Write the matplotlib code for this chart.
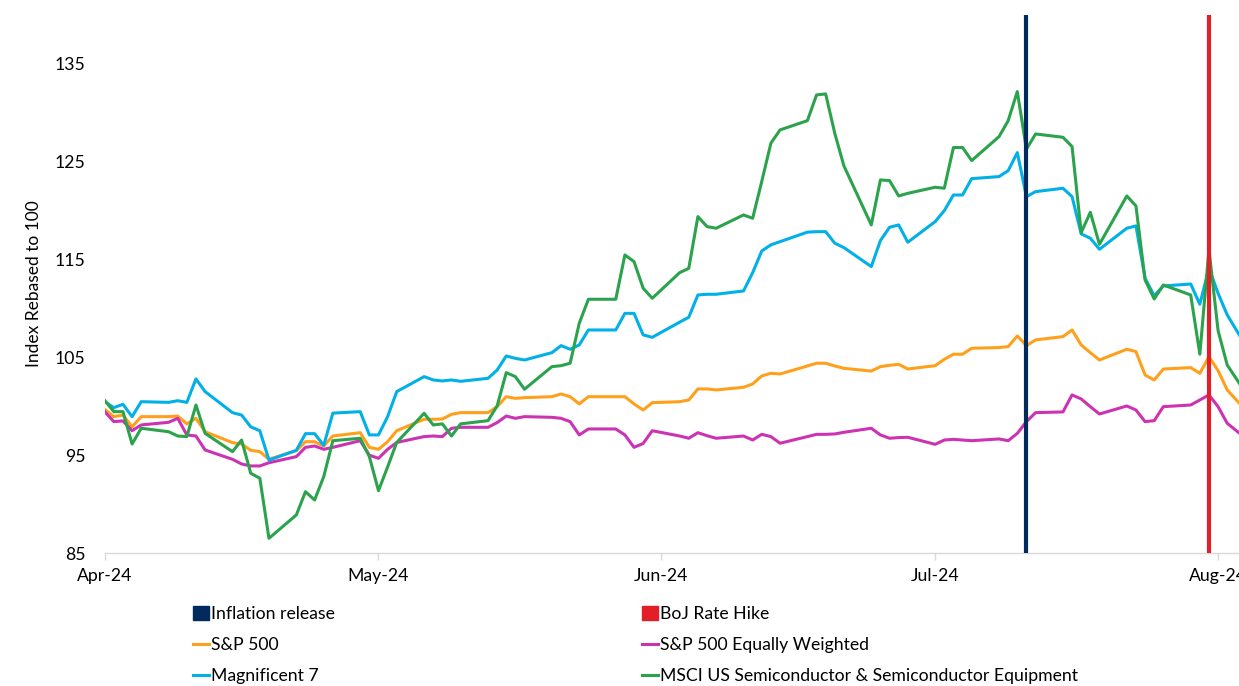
import pandas as pd
import matplotlib
matplotlib.use("Agg")
import matplotlib.pyplot as plt
import matplotlib.dates as mdates
from matplotlib.patches import Patch
from matplotlib.lines import Line2D

# weekdays, holidays carried forward
dates = pd.bdate_range("2024-04-01", "2024-08-05")

mag7 = [
    # Apr
    100.47, 99.86, 100.2, 98.94, 100.47, 100.4, 100.57, 100.4, 102.8, 101.5,
    99.35, 99.1, 97.9, 97.5, 94.5, 95.5, 97.2, 97.2, 96.0, 99.3, 99.45, 97.07,
    # May
    97.07, 98.94, 101.5, 103.03, 102.69, 102.59, 102.69, 102.55, 102.86, 103.7,
    105.14, 104.9, 104.73, 105.48, 106.2, 105.83, 106.27, 107.8, 107.8, 109.5,
    109.5, 107.3, 107.05,
    # Jun
    108.6, 109.1, 111.38, 111.45, 111.45, 111.79, 113.66, 115.88, 116.5, 116.83,
    117.8, 117.85, 117.85, 116.67, 116.22, 114.28, 116.94, 118.3, 118.54, 116.77,
    # Jul
    118.88, 120.0, 121.6, 121.6, 123.27, 123.48, 124.09, 125.93, 121.43, 121.94,
    122.29, 121.43, 117.62, 117.18, 116.05, 118.2, 118.44, 113.09, 111.3, 112.3,
    112.5, 110.43, 114.11,
    # Aug
    111.55, 109.34, 104.7,
]

sp500 = [
    99.69, 98.94, 99.1, 97.9, 98.94, 98.94, 99.0, 98.2, 98.77, 97.4,
    96.28, 96.14, 95.5, 95.36, 94.58, 95.46, 96.38, 96.38, 95.94, 96.96, 97.3, 95.8,
    95.6, 96.38, 97.5, 98.67, 98.67, 98.7, 99.18, 99.35, 99.35, 99.96,
    100.98, 100.81, 100.88, 100.98, 101.26, 100.98, 100.24, 100.98, 100.98, 100.98,
    100.24, 99.62, 100.37,
    100.47, 100.64, 101.77, 101.77, 101.67, 101.94, 102.28, 103.1, 103.37, 103.3,
    104.12, 104.4, 104.4, 104.12, 103.88, 103.6, 104.05, 104.19, 104.29, 103.81,
    104.15, 104.8, 105.32, 105.32, 105.93, 106.0, 106.1, 107.19, 106.2, 106.78,
    107.12, 107.8, 106.27, 105.48, 104.73, 105.83, 105.59, 103.2, 102.69, 103.81,
    103.95, 103.37, 105.07,
    103.64, 101.67, 98.6,
]

sp500_ew = [
    99.45, 98.43, 98.5, 97.5, 98.09, 98.36, 98.77, 97.07, 96.96, 95.53,
    94.58, 94.1, 93.9, 93.9, 94.23, 94.85, 95.8, 95.94, 95.6, 95.8, 96.48, 95.0,
    94.68, 95.6, 96.3, 96.9, 96.96, 96.9, 97.75, 97.85, 97.85, 98.33,
    99.0, 98.77, 98.94, 98.87, 98.77, 98.43, 97.07, 97.68, 97.68, 97.07,
    95.8, 96.2, 97.5,
    96.96, 96.73, 97.3, 96.99, 96.73, 96.96, 96.55, 97.13, 96.9, 96.22,
    96.9, 97.13, 97.13, 97.17, 97.34, 97.75, 97.07, 96.73, 96.8, 96.83,
    96.11, 96.55, 96.62, 96.55, 96.48, 96.66, 96.48, 97.23, 98.43, 99.35,
    99.42, 101.16, 100.75, 99.96, 99.21, 100.03, 99.62, 98.43, 98.53, 99.96,
    100.13, 100.64, 101.16,
    99.96, 98.26, 96.0,
]

semis = [
    100.6, 99.45, 99.45, 96.14, 97.75, 97.4, 96.96, 96.9, 100.13, 97.23,
    95.36, 96.55, 93.15, 92.64, 86.5, 88.89, 91.27, 90.42, 92.8, 96.48, 96.73, 94.85,
    91.37, 93.8, 96.3, 99.28, 98.09, 98.2, 96.96, 98.2, 98.53, 100.03,
    103.44, 103.03, 101.74, 104.05, 104.15, 104.4, 108.49, 110.94, 110.94, 115.47,
    114.79, 112.07, 111.04,
    113.66, 114.1, 119.39, 118.37, 118.2, 119.56, 119.22, 123.0, 126.9, 128.25,
    129.2, 131.83, 131.93, 127.9, 124.57, 118.54, 123.14, 123.07, 121.5, 121.77,
    122.39, 122.29, 126.45, 126.45, 125.12, 127.57, 129.2, 132.17, 126.28, 127.84,
    127.5, 126.55, 117.76, 119.83, 116.56, 121.5, 120.48, 112.91, 110.97, 112.4,
    111.38, 105.32, 116.05,
    107.73, 104.22, 100.0,
]

inflation_release = pd.Timestamp("2024-07-11")
boj_hike = pd.Timestamp("2024-07-31")

c_navy = "#002B5C"
c_red = "#E41E26"
c_orange = "#FFA01C"
c_magenta = "#CC33B3"
c_blue = "#00B0E6"
c_green = "#2BA24C"

plt.rcParams["font.family"] = ["Lato", "DejaVu Sans"]

fig = plt.figure(figsize=(12.39, 6.86), dpi=100)
ax = fig.add_axes([104.7 / 1239, 1 - 553 / 686, 1 - 104.7 / 1239, 538 / 686])

lw = 2.2
ax.plot(dates, sp500, color=c_orange, lw=lw)
ax.plot(dates, sp500_ew, color=c_magenta, lw=lw)
ax.plot(dates, mag7, color=c_blue, lw=lw)
ax.plot(dates, semis, color=c_green, lw=lw)
ax.axvline(inflation_release, color=c_navy, lw=3, zorder=5)
ax.axvline(boj_hike, color=c_red, lw=3, zorder=5)

ax.set_xlim(pd.Timestamp("2024-04-01"), pd.Timestamp("2024-08-03 07:00"))
ax.set_ylim(85, 140)
ax.set_yticks([85, 95, 105, 115, 125, 135])
ax.xaxis.set_major_locator(mdates.MonthLocator())
ax.xaxis.set_major_formatter(mdates.DateFormatter("%b-%y"))

for s in ["top", "right", "left"]:
    ax.spines[s].set_visible(False)
ax.spines["bottom"].set_color("#D9D9D9")
ax.spines["bottom"].set_linewidth(1)
ax.tick_params(axis="y", length=0, pad=14, labelsize=12.7)
ax.tick_params(axis="x", length=5, color="#D9D9D9", width=1, pad=6, labelsize=12.7)
ax.set_ylabel("Index Rebased to 100", fontsize=12.5, labelpad=9)

leg_kw = dict(loc="upper left", frameon=False, borderpad=0, borderaxespad=0,
              handlelength=0.9, handleheight=0.8, handletextpad=0.1,
              labelspacing=0.85, fontsize=12.7)
h1 = [Patch(color=c_navy), Line2D([], [], color=c_orange, lw=lw),
      Line2D([], [], color=c_blue, lw=lw)]
l1 = ["Inflation release", "S&P 500", "Magnificent 7"]
h2 = [Patch(color=c_red), Line2D([], [], color=c_magenta, lw=lw),
      Line2D([], [], color=c_green, lw=lw)]
l2 = ["BoJ Rate Hike", "S&P 500 Equally Weighted",
      "MSCI US Semiconductor & Semiconductor Equipment"]
fig.legend(h1, l1, bbox_to_anchor=(193 / 1239, 1 - 606 / 686), **leg_kw)
fig.legend(h2, l2, bbox_to_anchor=(642 / 1239, 1 - 606 / 686), **leg_kw)

fig.savefig("out.png", dpi=100)
